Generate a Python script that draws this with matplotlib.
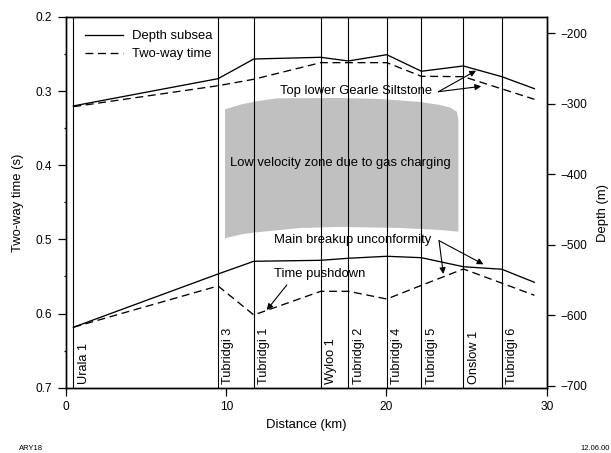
import matplotlib
matplotlib.use("Agg")
import matplotlib.pyplot as plt
from matplotlib.patches import Polygon
from matplotlib.ticker import MultipleLocator

plt.rcParams['font.family'] = ['Liberation Sans', 'DejaVu Sans']

# Well names and their positions along the section (km)
wells = ["Urala 1", "Tubridgi 3", "Tubridgi 1", "Wyloo 1", "Tubridgi 2",
         "Tubridgi 4", "Tubridgi 5", "Onslow 1", "Tubridgi 6"]
well_km = [0.46, 9.49, 11.72, 15.90, 17.62, 20.02, 22.18, 24.80, 27.20]

# Profile stations: the wells plus the eastern end of the section
profile_km = well_km + [29.23]

# Top lower Gearle Siltstone
top_depth_m = [-303.1, -264.4, -236.5, -234.1, -239.3, -230.4, -253.9, -246.4, -261.6, -278.6]
top_twt_s = [0.321, 0.2927, 0.284, 0.2616, 0.2616, 0.2616, 0.280, 0.2805, 0.297, 0.311]

# Main breakup unconformity
base_depth_m = [-617.1, -541.5, -523.5, -522.1, -519.2, -516.4, -518.4, -531.2, -534.8, -553.3]
base_twt_s = [0.6185, 0.5628, 0.6019, 0.570, 0.570, 0.5804, 0.562, 0.5399, 0.559, 0.5754]

# Outline of the low velocity zone (km, s)
lvz_km = [9.925, 11.05, 12.11, 13.17, 17.10, 19.60, 22.10, 23.35, 23.97, 24.39, 24.49,
          24.49, 23.35, 20.85, 17.10, 14.61, 12.11, 11.05, 9.925]
lvz_s = [0.3245, 0.3173, 0.3129, 0.3097, 0.3093, 0.3106, 0.3146, 0.3187, 0.3221, 0.3277, 0.3389,
         0.4896, 0.4873, 0.4846, 0.4832, 0.4846, 0.4900, 0.4927, 0.4985]

FS = 9.4      # annotation / axis-label text
WFS = 9.2     # well names
TFS = 8.6     # tick labels
fig = plt.figure(figsize=(6.11, 4.53), dpi=100)
ax = fig.add_axes([0.108, 0.1442, 0.7868, 0.8183])
ax2 = ax.twinx()

ax.set_xlim(0, 30)
ax.set_ylim(0.7, 0.2)
ax2.set_ylim(-702.8, -176.9)

# low velocity zone
ax.add_patch(Polygon(list(zip(lvz_km, lvz_s)), closed=True, facecolor='#c0c0c0',
                     edgecolor='none', zorder=1))

# well lines
for x in well_km:
    ax.axvline(x, color='black', lw=0.8, zorder=2)
for x, name in zip(well_km, wells):
    ax.annotate(name, xy=(x, 0.7), xytext=(3, 3), textcoords='offset points',
                rotation=90, ha='left', va='bottom', fontsize=WFS, zorder=3)

dash = (0, (6, 3.5))
lw = 0.95
# two-way time on the left axis, depth on the right axis
l_twt, = ax.plot(profile_km, top_twt_s, color='black', lw=lw, linestyle=dash, zorder=4)
ax.plot(profile_km, base_twt_s, color='black', lw=lw, linestyle=dash, zorder=4)
l_dep, = ax2.plot(profile_km, top_depth_m, color='black', lw=lw, zorder=4)
ax2.plot(profile_km, base_depth_m, color='black', lw=lw, zorder=4)

ax.legend([l_dep, l_twt], ["Depth subsea", "Two-way time"], loc='upper left',
          bbox_to_anchor=(0.0395, 0.965), frameon=False, fontsize=FS, borderpad=0,
          handlelength=2.9, handletextpad=0.7, labelspacing=0.45, borderaxespad=0)

# annotations
ax.text(18.09, 0.2998, "Top lower Gearle Siltstone", ha='center', va='center', fontsize=FS)
ax.text(17.10, 0.3973, "Low velocity zone due to gas charging", ha='center', va='center', fontsize=FS)
ax.text(17.90, 0.5008, "Main breakup unconformity", ha='center', va='center', fontsize=FS)
ax.text(15.84, 0.5466, "Time pushdown", ha='center', va='center', fontsize=FS)

arrow = dict(arrowstyle='-|>', lw=0.8, color='black', mutation_scale=9, shrinkA=0, shrinkB=0)
for tail, tip in [((23.24, 0.3008), (25.59, 0.2724)),
                  ((23.24, 0.3008), (25.91, 0.2935)),
                  ((23.28, 0.5017), (26.05, 0.5336)),
                  ((23.28, 0.5017), (23.55, 0.5466)),
                  ((13.78, 0.5615), (12.53, 0.5952))]:
    ax.annotate("", xy=tip, xytext=tail, arrowprops=arrow, zorder=5)

# axes styling
ax.set_xticks([0, 10, 20, 30])
ax.set_yticks([0.2, 0.3, 0.4, 0.5, 0.6, 0.7])
ax.set_yticklabels(["0.2", "0.3", "0.4", "0.5", "0.6", "0.7"])
ax.yaxis.set_minor_locator(MultipleLocator(0.05))
ax2.set_yticks([-200, -300, -400, -500, -600, -700])
ax.tick_params(axis='both', which='major', direction='out', length=6, width=0.9,
               labelsize=TFS, pad=3.8)
ax.tick_params(axis='y', which='minor', direction='out', length=1.8, width=0.9)
ax2.tick_params(axis='y', which='major', direction='out', length=6, width=0.9,
                labelsize=TFS, pad=3.5)
for a in (ax, ax2):
    for s in a.spines.values():
        s.set_linewidth(1.0)

ax.set_xlabel("Distance (km)", fontsize=FS, labelpad=4)
ax.set_ylabel("Two-way time (s)", fontsize=FS)
ax.yaxis.set_label_coords(-0.087, 0.5)
ax2.set_ylabel("Depth (m)", fontsize=FS)
ax2.yaxis.set_label_coords(1.105, 0.471)

fig.text(19 / 611, 1 - 448 / 453, "ARY18", fontsize=5.5, ha='left', va='center')
fig.text(610 / 611, 1 - 449 / 453, "12.06.00", fontsize=5.5, ha='right', va='center')

fig.savefig("out.png", dpi=100)
